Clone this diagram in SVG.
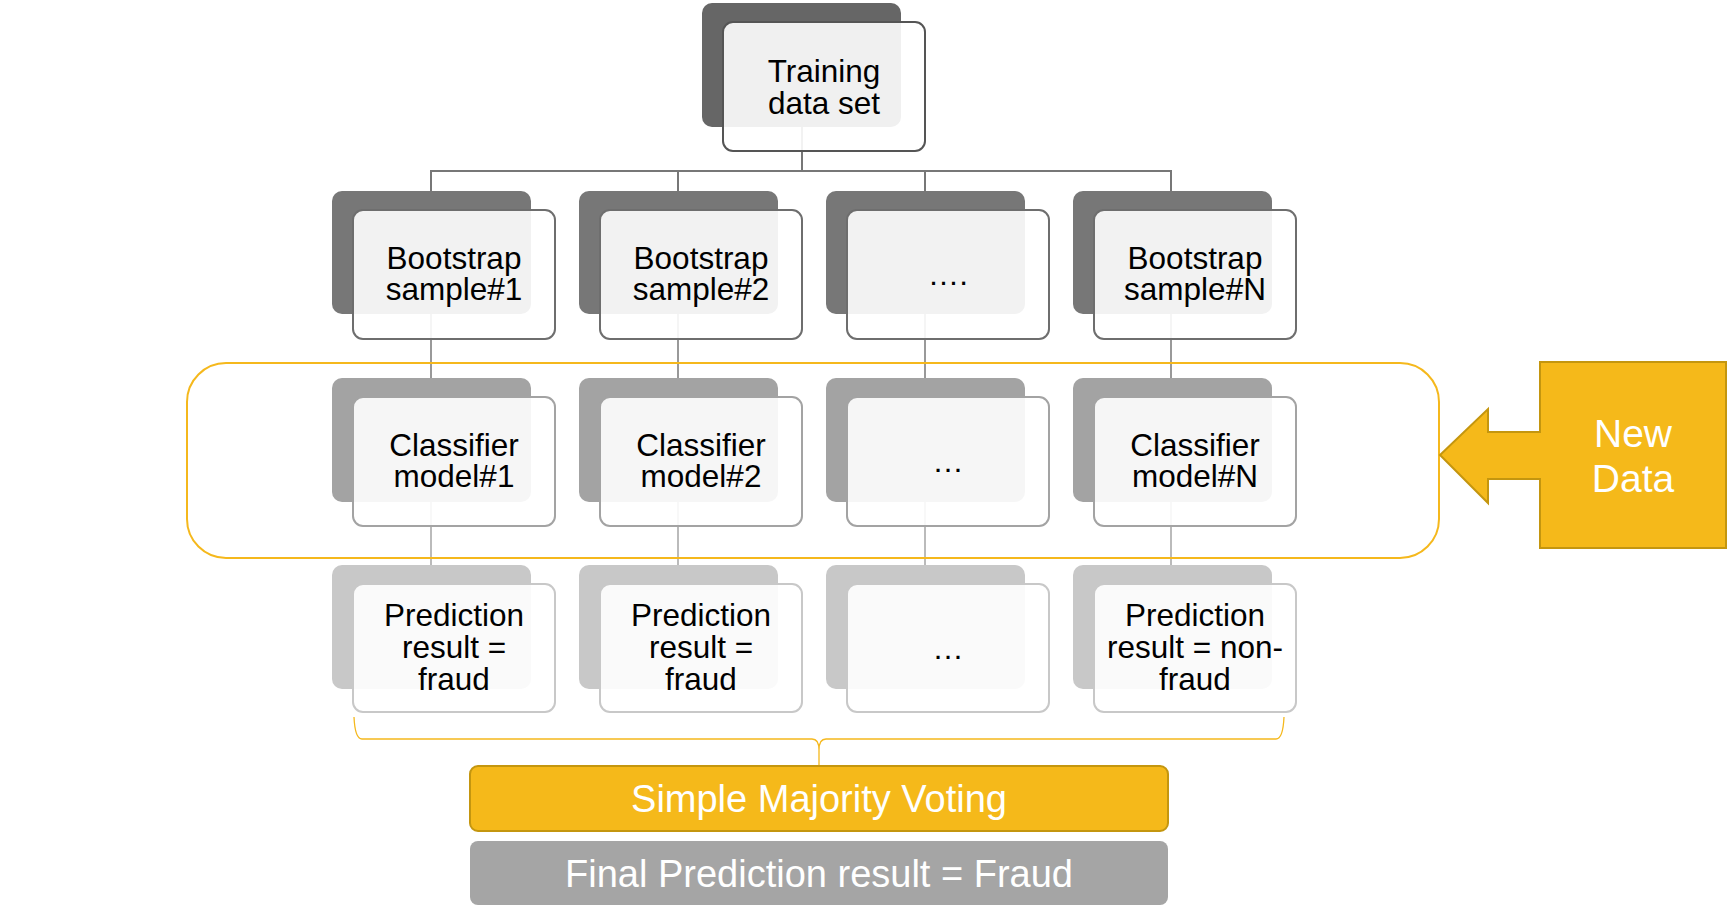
<svg xmlns="http://www.w3.org/2000/svg" width="1729" height="920" viewBox="0 0 1729 920">
<style>
text{font-family:"Liberation Sans",Arial,sans-serif;font-size:31.5px;fill:#000;text-anchor:middle}
.front{fill:#fff;fill-opacity:0.9;stroke-width:2}
.b0{fill:#666}
.b1{fill:#777}
.b2{fill:#a3a3a3}
.b3{fill:#c8c8c8}
.f0{stroke:#555}
.f1{stroke:#6e6e6e}
.f2{stroke:#a3a3a3}
.f3{stroke:#c8c8c8}
.c1{stroke:#777;stroke-width:2;fill:none}
.c2{stroke:#999;stroke-width:2;fill:none}
.c3{stroke:#bbb;stroke-width:2;fill:none}
.w{fill:#fff;font-size:38px}
.nd{fill:#fff;font-size:39px}
</style>
<rect width="1729" height="920" fill="#fff"/>
<g id="backs">
<rect class="b0" x="702" y="3" width="199" height="124" rx="10"/>
<rect class="b1" x="332" y="191" width="199" height="123" rx="10"/>
<rect class="b1" x="579" y="191" width="199" height="123" rx="10"/>
<rect class="b1" x="826" y="191" width="199" height="123" rx="10"/>
<rect class="b1" x="1073" y="191" width="199" height="123" rx="10"/>
<rect class="b2" x="332" y="378" width="199" height="124" rx="10"/>
<rect class="b2" x="579" y="378" width="199" height="124" rx="10"/>
<rect class="b2" x="826" y="378" width="199" height="124" rx="10"/>
<rect class="b2" x="1073" y="378" width="199" height="124" rx="10"/>
<rect class="b3" x="332" y="565" width="199" height="124" rx="10"/>
<rect class="b3" x="579" y="565" width="199" height="124" rx="10"/>
<rect class="b3" x="826" y="565" width="199" height="124" rx="10"/>
<rect class="b3" x="1073" y="565" width="199" height="124" rx="10"/>
</g>
<g id="connectors">
<path class="c1" d="M802,127 V171 M431,191 V171 H1171 V191 M678,171 V191 M925,171 V191"/>
<path class="c2" d="M431,314 V378 M678,314 V378 M925,314 V378 M1171,314 V378"/>
<path class="c3" d="M431,502 V565 M678,502 V565 M925,502 V565 M1171,502 V565"/>
<path d="M354,717 Q355,739 362,739 L812,739 Q819,739 819,750 L819,766 M1284,717 Q1283,739 1276,739 L826,739 Q819,739 819,750" fill="none" stroke="#f5b81c" stroke-width="1.3"/>
</g>
<g id="training">
<rect class="front f0" x="723" y="22" width="202" height="129" rx="10"/>
<text x="824" y="82">Training</text>
<text x="824" y="114">data set</text>
</g>
<g id="boot1">
<rect class="front f1" x="353" y="210" width="202" height="129" rx="10"/>
<text x="454" y="269">Bootstrap</text><text x="454" y="300">sample#1</text>
</g>
<g id="boot2">
<rect class="front f1" x="600" y="210" width="202" height="129" rx="10"/>
<text x="701" y="269">Bootstrap</text><text x="701" y="300">sample#2</text>
</g>
<g id="boot3">
<rect class="front f1" x="847" y="210" width="202" height="129" rx="10"/>
<text x="948" y="285">….</text>
</g>
<g id="bootN">
<rect class="front f1" x="1094" y="210" width="202" height="129" rx="10"/>
<text x="1195" y="269">Bootstrap</text><text x="1195" y="300">sample#N</text>
</g>
<g id="model1">
<rect class="front f2" x="353" y="397" width="202" height="129" rx="10"/>
<text x="454" y="456">Classifier</text><text x="454" y="487">model#1</text>
</g>
<g id="model2">
<rect class="front f2" x="600" y="397" width="202" height="129" rx="10"/>
<text x="701" y="456">Classifier</text><text x="701" y="487">model#2</text>
</g>
<g id="model3">
<rect class="front f2" x="847" y="397" width="202" height="129" rx="10"/>
<text x="948" y="472">…</text>
</g>
<g id="modelN">
<rect class="front f2" x="1094" y="397" width="202" height="129" rx="10"/>
<text x="1195" y="456">Classifier</text><text x="1195" y="487">model#N</text>
</g>
<g id="pred1">
<rect class="front f3" x="353" y="584" width="202" height="128" rx="10"/>
<text x="454" y="626">Prediction</text><text x="454" y="658">result =</text><text x="454" y="690">fraud</text>
</g>
<g id="pred2">
<rect class="front f3" x="600" y="584" width="202" height="128" rx="10"/>
<text x="701" y="626">Prediction</text><text x="701" y="658">result =</text><text x="701" y="690">fraud</text>
</g>
<g id="pred3">
<rect class="front f3" x="847" y="584" width="202" height="128" rx="10"/>
<text x="948" y="659">…</text>
</g>
<g id="predN">
<rect class="front f3" x="1094" y="584" width="202" height="128" rx="10"/>
<text x="1195" y="626">Prediction</text><text x="1195" y="658">result = non-</text><text x="1195" y="690">fraud</text>
</g>
<g id="ensemble">
<rect x="187" y="363" width="1252" height="195" rx="39" fill="none" stroke="#f5b81c" stroke-width="2"/>
</g>
<g id="newdata">
<path d="M1540,362 H1726 V548 H1540 V479 H1488 V503 L1440,455 L1488,409 V432 H1540 Z" fill="#f5b91a" stroke="#c4960f" stroke-width="2"/>
<text class="nd" x="1633" y="447">New</text>
<text class="nd" x="1633" y="492">Data</text>
</g>
<g id="voting">
<rect x="470" y="766" width="698" height="65" rx="8" fill="#f5b91a" stroke="#c4960f" stroke-width="2"/>
<text class="w" x="819" y="812">Simple Majority Voting</text>
</g>
<g id="final">
<rect x="470" y="841" width="698" height="64" rx="8" fill="#a5a5a5"/>
<text class="w" x="819" y="887">Final Prediction result = Fraud</text>
</g>
</svg>
